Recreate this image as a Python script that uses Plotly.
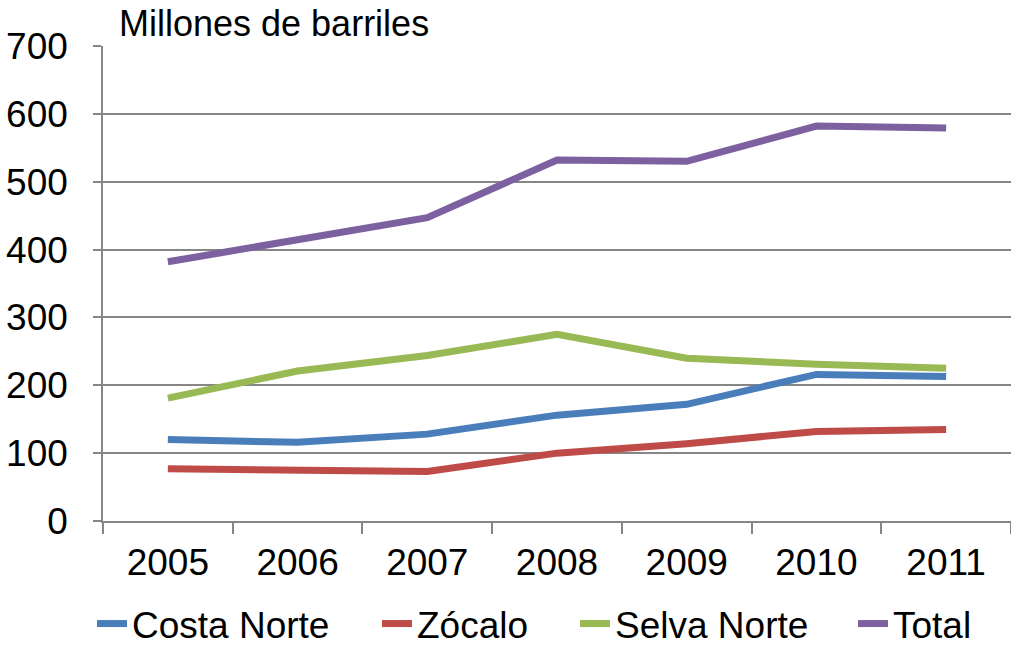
import plotly.graph_objects as go

years = ["2005", "2006", "2007", "2008", "2009", "2010", "2011"]
costa_norte = [120, 116, 128, 156, 172, 216, 213]
zocalo = [77, 74, 73, 100, 114, 132, 135]
selva_norte = [181, 221, 244, 275, 240, 231, 225]
total = [382, 415, 447, 532, 530, 582, 579]

series_names = ["Costa Norte", "Zócalo", "Selva Norte", "Total"]
series_values = [costa_norte, zocalo, selva_norte, total]
colors = ["#4A7EBB", "#BE4B48", "#98B954", "#7D60A0"]
legend_ids = ["legend", "legend2", "legend3", "legend4"]
legend_text_x = [133, 418, 616, 894]

font_family = "Liberation Sans, Arial, sans-serif"
W, H = 1011, 646

fig = go.Figure()
for name, vals, col, lid in zip(series_names, series_values, colors, legend_ids):
    fig.add_trace(go.Scatter(
        x=years, y=vals, name=name, mode="lines",
        line=dict(color=col, width=7), legend=lid,
    ))

legend_layout = {}
for lid, tx in zip(legend_ids, legend_text_x):
    legend_layout[lid] = dict(
        orientation="h", xref="container", yref="container",
        x=(tx - 41) / W, xanchor="left", y=(H - 624) / H, yanchor="middle",
        font=dict(size=37), bgcolor="rgba(0,0,0,0)",
    )

fig.update_layout(
    width=W, height=H,
    margin=dict(l=103, r=0, t=46, b=125, autoexpand=False),
    plot_bgcolor="white", paper_bgcolor="white",
    font=dict(family=font_family, size=37, color="black"),
    showlegend=True,
    xaxis=dict(
        type="category", tickson="boundaries", ticks="outside", ticklen=11,
        tickcolor="#868686", tickwidth=1.5,
        showline=True, linecolor="#868686", linewidth=1.5,
        showgrid=False, range=[-0.5, 6.5], automargin=False,
        tickfont=dict(size=37), ticklabelstandoff=8,
    ),
    yaxis=dict(
        range=[0, 700], tickvals=[0, 100, 200, 300, 400, 500, 600, 700],
        ticks="outside", ticklen=8, tickcolor="#868686", tickwidth=1.5,
        showline=True, linecolor="#868686", linewidth=1.5,
        showgrid=True, gridcolor="#868686", gridwidth=1.5,
        zeroline=False, tickfont=dict(size=37), automargin=False,
        ticklabelstandoff=18,
    ),
    annotations=[dict(
        text="Millones de barriles", xref="paper", yref="paper",
        x=(117 - 103) / 908, y=1.0, xanchor="left", yanchor="bottom",
        yshift=0, showarrow=False, font=dict(size=36),
    )],
    **legend_layout,
)

fig.write_html(
    "out.html",
    config={"displayModeBar": False},
    post_script="document.body.style.margin='0';document.body.style.overflow='hidden';",
)
